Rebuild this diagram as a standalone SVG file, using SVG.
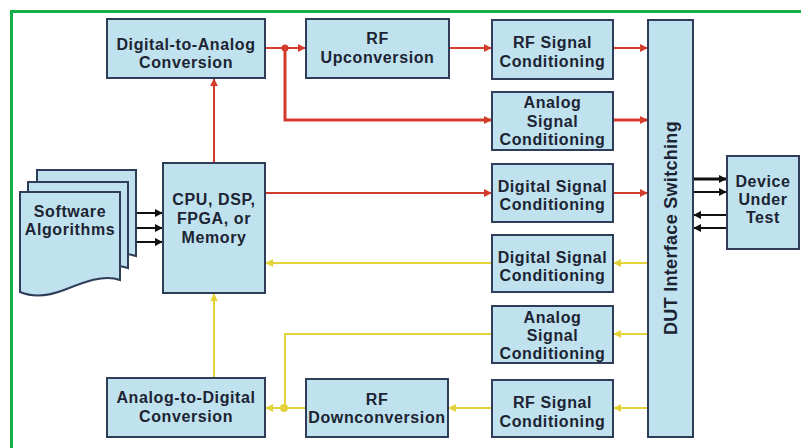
<svg xmlns="http://www.w3.org/2000/svg" width="801" height="448" viewBox="0 0 801 448">
  <style>
    .box { fill: #bfe2ee; stroke: #2f3d5a; stroke-width: 2; }
    .lbl { font-family: "Liberation Sans", Arial, sans-serif; font-weight: bold; font-size: 16px; letter-spacing: 0.6px; fill: #1c2433; text-anchor: middle; }
    .red { stroke: #d33b2b; stroke-width: 2; fill: none; }
    .redw { stroke: #d33b2b; stroke-width: 3; fill: none; }
    .yel { stroke: #e4d23a; stroke-width: 2; fill: none; }
    .blk { stroke: #111; stroke-width: 2; fill: none; }
  </style>
  <defs>
    <marker id="arRed" viewBox="0 0 10 10" refX="9" refY="5" markerWidth="8" markerHeight="8" markerUnits="userSpaceOnUse" orient="auto">
      <path d="M0,0 L10,5 L0,10 z" fill="#d33b2b"/>
    </marker>
    <marker id="arYel" viewBox="0 0 10 10" refX="9" refY="5" markerWidth="8" markerHeight="8" markerUnits="userSpaceOnUse" orient="auto">
      <path d="M0,0 L10,5 L0,10 z" fill="#e4d23a"/>
    </marker>
    <marker id="arBlk" viewBox="0 0 10 10" refX="9" refY="5" markerWidth="8" markerHeight="8" markerUnits="userSpaceOnUse" orient="auto">
      <path d="M0,0 L10,5 L0,10 z" fill="#111"/>
    </marker>
  </defs>

  <rect x="11.5" y="11.5" width="800" height="445" fill="#ffffff" stroke="#12b046" stroke-width="3"/>

  <!-- connectors -->
  <g id="connectors">
    <!-- outbound (red) paths -->
    <path class="red" d="M214,163 V79" marker-end="url(#arRed)"/>
    <path class="red" d="M265,48 H305" marker-end="url(#arRed)"/>
    <path class="redw" d="M285,48 V120 H491" marker-end="url(#arRed)"/>
    <circle cx="285" cy="48" r="3.5" fill="#d33b2b"/>
    <path class="red" d="M449,48 H491" marker-end="url(#arRed)"/>
    <path class="red" d="M613,48 H647" marker-end="url(#arRed)"/>
    <path class="redw" d="M613,120 H647" marker-end="url(#arRed)"/>
    <path class="red" d="M265,193 H491" marker-end="url(#arRed)"/>
    <path class="red" d="M613,193 H647" marker-end="url(#arRed)"/>

    <!-- inbound (yellow) paths -->
    <path class="yel" d="M648,263 H614" marker-end="url(#arYel)"/>
    <path class="yel" d="M492,263 H266" marker-end="url(#arYel)"/>
    <path class="yel" d="M648,334 H614" marker-end="url(#arYel)"/>
    <path class="yel" d="M492,334 H285 V408"/>
    <path class="yel" d="M648,408 H614" marker-end="url(#arYel)"/>
    <path class="yel" d="M492,408 H449" marker-end="url(#arYel)"/>
    <path class="yel" d="M306,408 H266" marker-end="url(#arYel)"/>
    <circle cx="284" cy="408" r="4" fill="#e4d23a"/>
    <path class="yel" d="M214,378 V294" marker-end="url(#arYel)"/>

    <!-- software to processor -->
    <path class="blk" d="M136,213 H162" marker-end="url(#arBlk)"/>
    <path class="blk" d="M120,228 H162" marker-end="url(#arBlk)"/>
    <path class="blk" d="M120,242 H162" marker-end="url(#arBlk)"/>

    <!-- DUT switching to device -->
    <path class="blk" style="stroke-width:3" d="M693,179 H726" marker-end="url(#arBlk)"/>
    <path class="blk" d="M693,192 H726" marker-end="url(#arBlk)"/>
    <path class="blk" d="M727,215 H694" marker-end="url(#arBlk)"/>
    <path class="blk" d="M727,228 H694" marker-end="url(#arBlk)"/>
  </g>

  <g id="dac">
    <rect class="box" x="107" y="19" width="158" height="59"/>
    <text class="lbl" x="186" y="50">Digital-to-Analog</text>
    <text class="lbl" x="186" y="68">Conversion</text>
  </g>

  <g id="rf-up">
    <rect class="box" x="306" y="19" width="143" height="59"/>
    <text class="lbl" x="377.5" y="44">RF</text>
    <text class="lbl" x="377.5" y="63">Upconversion</text>
  </g>

  <g id="rf-sc-out">
    <rect class="box" x="492" y="20" width="121" height="59"/>
    <text class="lbl" x="552.5" y="48">RF Signal</text>
    <text class="lbl" x="552.5" y="67">Conditioning</text>
  </g>

  <g id="analog-sc-out">
    <rect class="box" x="492" y="92" width="121" height="58"/>
    <text class="lbl" x="552.5" y="108">Analog</text>
    <text class="lbl" x="552.5" y="127">Signal</text>
    <text class="lbl" x="552.5" y="145">Conditioning</text>
  </g>

  <g id="digital-sc-out">
    <rect class="box" x="492" y="164" width="121" height="58"/>
    <text class="lbl" x="552.5" y="192">Digital Signal</text>
    <text class="lbl" x="552.5" y="210">Conditioning</text>
  </g>

  <g id="digital-sc-in">
    <rect class="box" x="492" y="235" width="121" height="57"/>
    <text class="lbl" x="552.5" y="263">Digital Signal</text>
    <text class="lbl" x="552.5" y="281">Conditioning</text>
  </g>

  <g id="analog-sc-in">
    <rect class="box" x="492" y="306" width="121" height="57"/>
    <text class="lbl" x="552.5" y="323">Analog</text>
    <text class="lbl" x="552.5" y="341">Signal</text>
    <text class="lbl" x="552.5" y="359">Conditioning</text>
  </g>

  <g id="rf-sc-in">
    <rect class="box" x="492" y="380" width="121" height="57"/>
    <text class="lbl" x="552.5" y="408">RF Signal</text>
    <text class="lbl" x="552.5" y="427">Conditioning</text>
  </g>

  <g id="rf-down">
    <rect class="box" x="306" y="379" width="142" height="58"/>
    <text class="lbl" x="377" y="405">RF</text>
    <text class="lbl" x="377" y="423">Downconversion</text>
  </g>

  <g id="adc">
    <rect class="box" x="107" y="378" width="158" height="59"/>
    <text class="lbl" x="186" y="403">Analog-to-Digital</text>
    <text class="lbl" x="186" y="422">Conversion</text>
  </g>

  <g id="cpu">
    <rect class="box" x="163" y="163" width="102" height="130"/>
    <text class="lbl" x="214" y="205">CPU, DSP,</text>
    <text class="lbl" x="214" y="224">FPGA, or</text>
    <text class="lbl" x="214" y="243">Memory</text>
  </g>

  <g id="software">
    <path class="box" d="M37,170 H136 V256 C120,250 100,258 80,266 C62,272 48,272 37,268 Z"/>
    <path class="box" d="M28,182 H128 V268 C112,262 92,270 72,278 C54,284 40,284 28,280 Z"/>
    <path class="box" d="M20,192 H120 V280 C104,274 84,282 64,290 C46,297 32,297 20,292 Z"/>
    <text class="lbl" x="70" y="217">Software</text>
    <text class="lbl" x="70" y="235">Algorithms</text>
  </g>

  <g id="dut-switch">
    <rect class="box" x="648" y="20" width="45" height="417"/>
    <text class="lbl" style="font-size:18px;letter-spacing:0.3px" transform="translate(677,228) rotate(-90)">DUT Interface Switching</text>
  </g>

  <g id="device">
    <rect class="box" x="727" y="156" width="72" height="93"/>
    <text class="lbl" x="763" y="187">Device</text>
    <text class="lbl" x="763" y="205">Under</text>
    <text class="lbl" x="763" y="223">Test</text>
  </g>
</svg>
